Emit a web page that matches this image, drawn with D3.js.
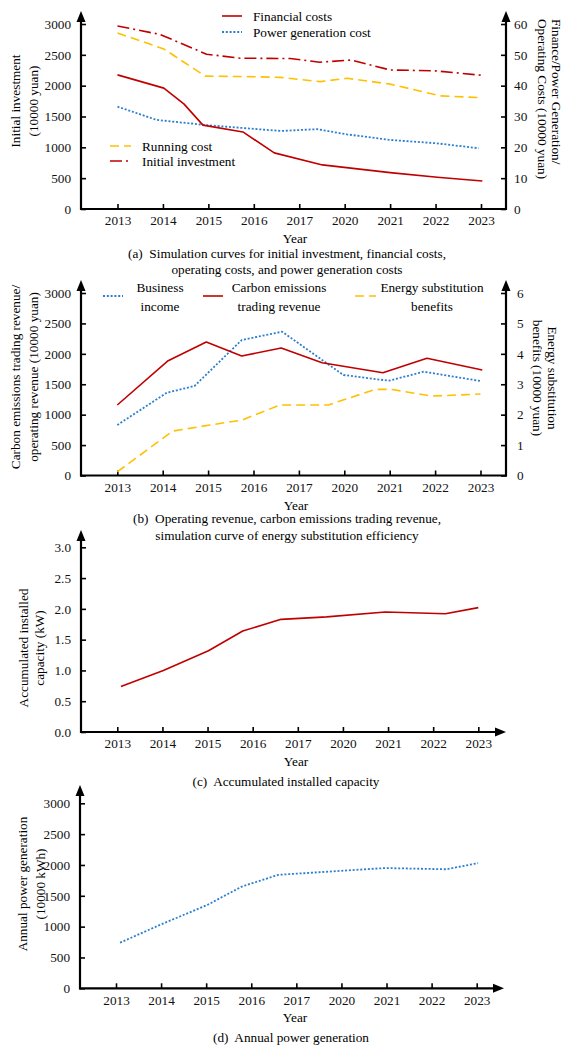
<!DOCTYPE html>
<html>
<head>
<meta charset="utf-8">
<script src="https://cdn.jsdelivr.net/npm/d3@7"></script>
<style>
  html, body { margin: 0; padding: 0; background: #fff; }
  svg { display: block; font-family: 'Liberation Serif', 'Times New Roman', serif; }
</style>
</head>
<body>
<svg id="chart" width="564" height="1047"></svg>
<script>
// ---- shared category axis ----
const years = ["2013", "2014", "2015", "2016", "2017", "2020", "2021", "2022", "2023"];

// ---- (a) costs ----
const finPos = [0, 1.02, 1.46, 1.88, 2.76, 3.45, 4.51, 6.0, 7.04, 8.03];
const financialCosts = [43.5, 39.2, 34.1, 27.2, 25.0, 18.2, 14.3, 11.8, 10.3, 9.1];
const powerPos = [0, 0.86, 1.96, 3.6, 4.39, 5.05, 6.0, 7.03, 7.95];
const powerCost = [33.2, 28.9, 27.2, 25.3, 25.9, 24.2, 22.4, 21.3, 19.7];
const runPos = [0, 1.02, 1.93, 3.0, 3.58, 4.46, 5.05, 6.0, 7.1, 8.02];
const runningCost = [57.1, 51.9, 43.1, 42.9, 42.7, 41.3, 42.4, 40.5, 36.7, 36.1];
const investPos = [0, 0.94, 1.96, 2.7, 3.8, 4.45, 5.15, 6.0, 7.0, 8.0];
const initialInvestment = [2968, 2830, 2510, 2445, 2440, 2380, 2415, 2255, 2240, 2170];
const ticksA = [0, 500, 1000, 1500, 2000, 2500, 3000];
const ticksARight = [0, 10, 20, 30, 40, 50, 60];

// ---- (b) revenue ----
const businessPos = [0, 1.09, 1.70, 2.74, 3.63, 4.98, 5.98, 6.75, 8.0];
const businessIncome = [830, 1361, 1471, 2227, 2364, 1652, 1558, 1706, 1553];
const carbonPos = [0, 1.12, 1.96, 2.74, 3.61, 4.51, 5.85, 6.82, 8.04];
const carbonRevenue = [1159, 1887, 2195, 1964, 2096, 1854, 1690, 1927, 1734];
const energyPos = [0, 1.22, 2.04, 2.74, 3.59, 4.65, 5.68, 6.05, 6.93, 8.0];
const energyBenefit = [0.12, 1.46, 1.66, 1.82, 2.32, 2.32, 2.83, 2.83, 2.61, 2.68];
const ticksB = [0, 500, 1000, 1500, 2000, 2500, 3000];
const ticksBRight = [0, 1, 2, 3, 4, 5, 6];

// ---- (c) installed capacity ----
const capPos = [0.08, 1.02, 2.02, 2.78, 3.63, 4.64, 5.94, 7.27, 8.0];
const capacity = [0.74, 1.00, 1.32, 1.64, 1.83, 1.87, 1.95, 1.92, 2.02];
const ticksC = [0, 0.5, 1.0, 1.5, 2.0, 2.5, 3.0];

// ---- (d) annual generation ----
const genPos = [0.09, 0.98, 2.02, 2.79, 3.6, 4.67, 5.96, 7.33, 8.03];
const generation = [740, 1030, 1350, 1650, 1840, 1890, 1950, 1930, 2030];
const ticksD = [0, 500, 1000, 1500, 2000, 2500, 3000];

// ---- styles ----
const RED = "#c00000", BLUE = "#2b7fd0", YELLOW = "#ffc000";
const FS = 13.25;
const styles = {
  solid:   { color: RED,    dash: null },
  dotted:  { color: BLUE,   dash: "2,1.8" },
  dashed:  { color: YELLOW, dash: "9,5" },
  dashdot: { color: RED,    dash: "12,4,2,4" }
};

const svg = d3.select("#chart");

function arrowUp(g, x, tip) {
  g.append("path").attr("d", `M${x},${tip} L${x - 4.5},${tip + 11} L${x + 4.5},${tip + 11} Z`).attr("fill", "#000");
}
function arrowRight(g, tip, y) {
  g.append("path").attr("d", `M${tip},${y} L${tip - 11},${y - 4.5} L${tip - 11},${y + 4.5} Z`).attr("fill", "#000");
}

function styleAxis(g) {
  g.select(".domain").remove();
  g.selectAll(".tick line").attr("stroke", "#000").attr("stroke-width", 1.6);
  g.selectAll(".tick text").attr("font-size", FS).attr("fill", "#111")
    .attr("font-family", "'Liberation Serif', 'Times New Roman', serif");
}

function panel(cfg) {
  const g = svg.append("g");
  const x = d3.scaleLinear([0, 8], cfg.xRange);
  const y = d3.scaleLinear([0, cfg.yMax], [cfg.bottom, cfg.yTop]);

  // left axis
  g.append("g").attr("transform", `translate(${cfg.left},0)`)
    .call(d3.axisLeft(y).tickValues(cfg.yTicks).tickFormat(cfg.yFmt || d3.format("d")).tickSize(-5).tickPadding(10))
    .call(styleAxis);
  g.append("line").attr("x1", cfg.left).attr("x2", cfg.left).attr("y1", cfg.bottom + 1).attr("y2", cfg.arrowTop + 8)
    .attr("stroke", "#000").attr("stroke-width", 2.2);
  arrowUp(g, cfg.left, cfg.arrowTop);

  // bottom axis
  g.append("g").attr("transform", `translate(0,${cfg.bottom})`)
    .call(d3.axisBottom(x).tickValues(d3.range(years.length)).tickFormat(i => years[i]).tickSize(-5).tickPadding(7))
    .call(styleAxis);
  const xEnd = cfg.right ? cfg.right.x : cfg.arrowRight - 8;
  g.append("line").attr("x1", cfg.left - 1).attr("x2", xEnd + (cfg.right ? 1 : 0)).attr("y1", cfg.bottom).attr("y2", cfg.bottom)
    .attr("stroke", "#000").attr("stroke-width", 2.2);
  if (!cfg.right) arrowRight(g, cfg.arrowRight, cfg.bottom);

  // right axis
  let y2 = null;
  if (cfg.right) {
    y2 = d3.scaleLinear([0, cfg.right.max], [cfg.bottom, cfg.yTop]);
    g.append("g").attr("transform", `translate(${cfg.right.x},0)`)
      .call(d3.axisRight(y2).tickValues(cfg.right.ticks).tickFormat(d3.format("d")).tickSize(-5).tickPadding(cfg.right.pad))
      .call(styleAxis);
    g.append("line").attr("x1", cfg.right.x).attr("x2", cfg.right.x).attr("y1", cfg.bottom + 1).attr("y2", cfg.arrowTop + 8)
      .attr("stroke", "#000").attr("stroke-width", 2.2);
    arrowUp(g, cfg.right.x, cfg.arrowTop);
  }

  // series
  cfg.series.forEach(s => {
    const sc = s.axis === "right" ? y2 : y;
    const pts = d3.zip(s.pos, s.values);
    const st = styles[s.style];
    g.append("path").datum(pts)
      .attr("d", d3.line().x(d => x(d[0])).y(d => sc(d[1])))
      .attr("fill", "none").attr("stroke", st.color).attr("stroke-width", s.style === "dotted" ? 1.8 : 1.6)
      .attr("stroke-dasharray", st.dash).attr("stroke-linejoin", "round");
  });

  // year label + caption
  g.append("text").attr("x", cfg.yearX).attr("y", cfg.yearY).attr("text-anchor", "middle")
    .attr("dominant-baseline", "central").attr("font-size", FS).text("Year");
  cfg.caption.forEach((t, i) => {
    g.append("text").attr("x", cfg.capX).attr("y", cfg.capY + i * 16.5).attr("text-anchor", "middle")
      .attr("dominant-baseline", "central").attr("font-size", FS).attr("xml:space", "preserve").text(t);
  });

  // rotated axis titles
  const lt = g.append("g").attr("transform", `translate(0,${cfg.leftTitle.cy}) rotate(-90)`);
  cfg.leftTitle.lines.forEach((t, i) => {
    lt.append("text").attr("x", 0).attr("y", cfg.leftTitle.xs[i]).attr("text-anchor", "middle")
      .attr("dominant-baseline", "central").attr("font-size", FS).text(t);
  });
  if (cfg.rightTitle) {
    const rt = cfg.rightTitle;
    const gr = g.append("g").attr("transform", `translate(564,${rt.cy}) rotate(90)`);
    rt.lines.forEach((t, i) => {
      gr.append("text").attr("x", 0).attr("y", 564 - rt.xs[i]).attr("text-anchor", rt.anchor)
        .attr("dominant-baseline", "central").attr("font-size", FS).text(t);
    });
  }
  return g;
}

function legendItem(g, x1, x2, y, style, lines, tx, anchor, ty) {
  const st = styles[style];
  g.append("line").attr("x1", x1).attr("x2", x2).attr("y1", y).attr("y2", y)
    .attr("stroke", st.color).attr("stroke-width", style === "dotted" ? 1.8 : 1.6).attr("stroke-dasharray", st.dash);
  lines.forEach((t, i) => {
    g.append("text").attr("x", tx).attr("y", ty[i]).attr("text-anchor", anchor)
      .attr("dominant-baseline", "central").attr("font-size", FS).text(t);
  });
}

// (a)
const ga = panel({
  left: 81, bottom: 209, yTop: 24, arrowTop: 11, yMax: 3000, yTicks: ticksA,
  xRange: [117.5, 481],
  right: { x: 506, max: 60, ticks: ticksARight, pad: 8 },
  series: [
    { pos: investPos, values: initialInvestment, style: "dashdot", axis: "left" },
    { pos: runPos, values: runningCost, style: "dashed", axis: "right" },
    { pos: powerPos, values: powerCost, style: "dotted", axis: "right" },
    { pos: finPos, values: financialCosts, style: "solid", axis: "right" }
  ],
  yearX: 295, yearY: 238,
  capX: 287, capY: 253,
  caption: ["(a)  Simulation curves for initial investment, financial costs,", "operating costs, and power generation costs"],
  leftTitle: { cy: 101, xs: [15, 33], lines: ["Initial investment", "(10000 yuan)"] },
  rightTitle: { cy: 19, xs: [556, 542], anchor: "start", lines: ["Finance/Power Generation/", "Operating Costs (10000 yuan)"] }
});
legendItem(ga, 222, 242, 16, "solid", ["Financial costs"], 253, "start", [16]);
legendItem(ga, 222, 242, 32, "dotted", ["Power generation cost"], 253, "start", [32]);
legendItem(ga, 110, 131, 146, "dashed", ["Running cost"], 142, "start", [146]);
legendItem(ga, 110, 129, 161, "dashdot", ["Initial investment"], 142, "start", [161]);

// (b)
const gb = panel({
  left: 81, bottom: 475.5, yTop: 293, arrowTop: 280, yMax: 3000, yTicks: ticksB,
  xRange: [117.3, 480.5],
  right: { x: 506, max: 6, ticks: ticksBRight, pad: 11 },
  series: [
    { pos: energyPos, values: energyBenefit, style: "dashed", axis: "right" },
    { pos: businessPos, values: businessIncome, style: "dotted", axis: "left" },
    { pos: carbonPos, values: carbonRevenue, style: "solid", axis: "left" }
  ],
  yearX: 296, yearY: 505,
  capX: 287, capY: 518.5,
  caption: ["(b)  Operating revenue, carbon emissions trading revenue,", "simulation curve of energy substitution efficiency"],
  leftTitle: { cy: 377, xs: [15, 33], lines: ["Carbon emissions trading revenue/", "operating revenue (10000 yuan)"] },
  rightTitle: { cy: 378, xs: [552, 537.5], anchor: "middle", lines: ["Energy substitution", "benefits (10000 yuan)"] }
});
legendItem(gb, 103, 123, 296, "dotted", ["Business", "income"], 160, "middle", [287, 306]);
legendItem(gb, 203, 223, 296, "solid", ["Carbon emissions", "trading revenue"], 279, "middle", [287, 306]);
legendItem(gb, 355, 376, 296, "dashed", ["Energy substitution", "benefits"], 432, "middle", [287, 306]);

// (c)
panel({
  left: 81, bottom: 732, yTop: 547.3, arrowTop: 530, arrowRight: 506, yMax: 3, yTicks: ticksC, yFmt: d3.format(".1f"),
  xRange: [117.3, 478.3],
  series: [{ pos: capPos, values: capacity, style: "solid", axis: "left" }],
  yearX: 296, yearY: 761,
  capX: 286, capY: 781,
  caption: ["(c)  Accumulated installed capacity"],
  leftTitle: { cy: 648, xs: [23, 39], lines: ["Accumulated installed", "capacity (kW)"] }
});

// (d)
panel({
  left: 80, bottom: 988.3, yTop: 803.3, arrowTop: 785, arrowRight: 504, yMax: 3000, yTicks: ticksD,
  xRange: [116, 476.7],
  series: [{ pos: genPos, values: generation, style: "dotted", axis: "left" }],
  yearX: 295, yearY: 1017,
  capX: 291, capY: 1037,
  caption: ["(d)  Annual power generation"],
  leftTitle: { cy: 884, xs: [22, 40], lines: ["Annual power generation", "(10000 kWh)"] }
});
</script>
</body>
</html>
